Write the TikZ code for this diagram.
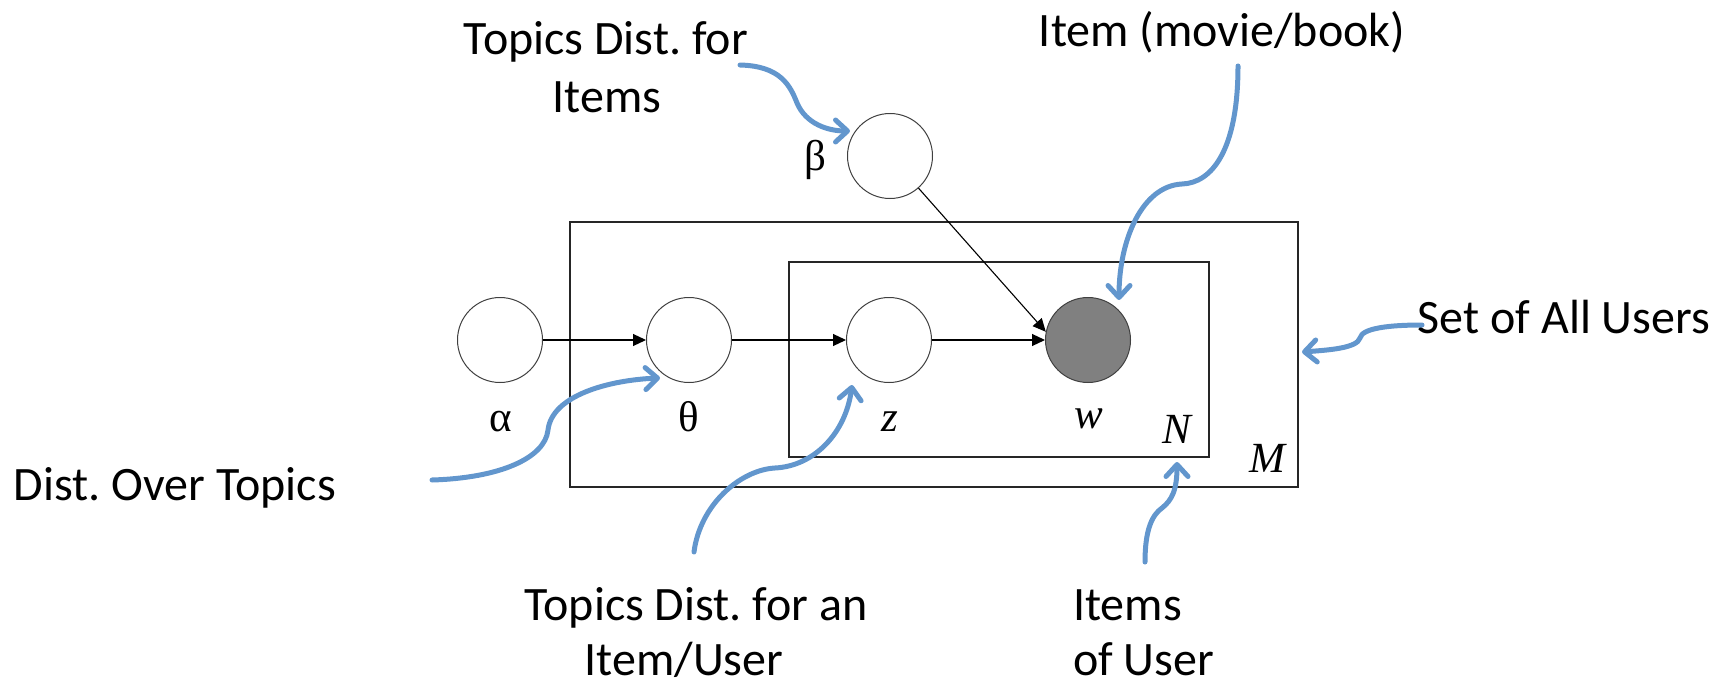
\documentclass[tikz,border=0pt]{standalone}
\usepackage{fontspec}
\setmainfont{Carlito}
\newfontfamily\symfont{Liberation Serif}
\usetikzlibrary{arrows.meta}
\definecolor{callblue}{RGB}{98,150,205}
\definecolor{obsgray}{RGB}{128,128,128}
\frenchspacing
\begin{document}
\begin{tikzpicture}[x=1pt,y=-1pt,
  var/.style={circle,draw=black!75,line width=1pt,minimum size=85pt,inner sep=0pt,fill=white},
  obs/.style={var,fill=obsgray},
  edge/.style={line width=1.1pt,-{Triangle[length=13pt,width=12pt]}},
  plate/.style={draw=black!85,line width=1.3pt},
  sym/.style={font=\symfont\fontsize{43}{46}\selectfont,anchor=base,inner sep=0pt},
  caption/.style={font=\fontsize{48}{57}\selectfont,anchor=base,inner sep=0pt},
  callout/.style={draw=callblue,line width=5pt,line cap=round,
    -{Straight Barb[length=12pt,width=22pt,round]}}
]
\useasboundingbox (0,0) rectangle (1722,685);

% plates
\draw[plate] (570,222) rectangle (1298,487);
\draw[plate] (789,262) rectangle (1209,457);

% variables
\node[var] (alpha) at (500,340) {};
\node[var] (theta) at (689,340) {};
\node[var] (z) at (889,340) {};
\node[obs] (w) at (1088,340) {};
\node[var] (beta) at (890,156) {};

% dependencies
\draw[edge] (alpha) -- (theta);
\draw[edge] (theta) -- (z);
\draw[edge] (z) -- (w);
\draw[edge] (beta) -- (w.169);

% symbols
\node[sym] (lalpha) at (501,431) {α};
\node[sym] (ltheta) at (689,431) {θ};
\node[sym] (lz) at (890,431) {\itshape z};
\node[sym] (lw) at (1089,428) {\itshape w};
\node[sym] (lbeta) at (815,170) {β};
\node[sym] (lN) at (1177,443) {\itshape N};
\node[sym] (lM) at (1267,472) {\itshape M};

% captions
\node[caption] (c1a) at (606,55) {Topics Dist. for};
\node[caption] (c1b) at (607,112) {Items};
\node[caption] (c2) at (1222,47) {Item (movie/book)};
\node[caption] (c3) at (1564,333) {Set of All Users};
\node[caption] (c4) at (175,500) {Dist. Over Topics};
\node[caption] (c5a) at (696,620) {Topics Dist. for an};
\node[caption] (c5b) at (684,675) {Item/User};
\node[caption,anchor=base west] (c6a) at (1073,620) {Items};
\node[caption,anchor=base west] (c6b) at (1073,675) {of User};

% callout ends
\coordinate (s1) at (740,65);   \coordinate (t1) at (850,131);
\coordinate (s2) at (1238,66);  \coordinate (t2) at (1119,300);
\coordinate (s3) at (1422,325); \coordinate (t3) at (1302,352);
\coordinate (s4) at (432,480);  \coordinate (t4) at (660,378);
\coordinate (s5) at (694,552);  \coordinate (t5) at (852,385);
\coordinate (s6) at (1145,562); \coordinate (t6) at (1177,462);

% callouts
\draw[callout] (s1) .. controls (780,66) and (790,85) .. (797,103)
  .. controls (806,124) and (828,131) .. (t1);
\draw[callout] (s2) .. controls (1238,150) and (1212,183) .. (1182,184)
  .. controls (1142,186) and (1119,240) .. (t2);
\draw[callout] (s3) .. controls (1390,325) and (1362,328) .. (1360,338)
  .. controls (1357,348) and (1330,350) .. (t3);
\draw[callout] (s4) .. controls (500,478) and (545,458) .. (548,430)
  .. controls (552,395) and (610,380) .. (t4);
\draw[callout] (s5) .. controls (700,505) and (740,470) .. (775,468)
  .. controls (815,466) and (846,432) .. (t5);
\draw[callout] (s6) .. controls (1145,530) and (1152,515) .. (1162,508)
  .. controls (1172,500) and (1177,490) .. (t6);
\end{tikzpicture}
\end{document}
